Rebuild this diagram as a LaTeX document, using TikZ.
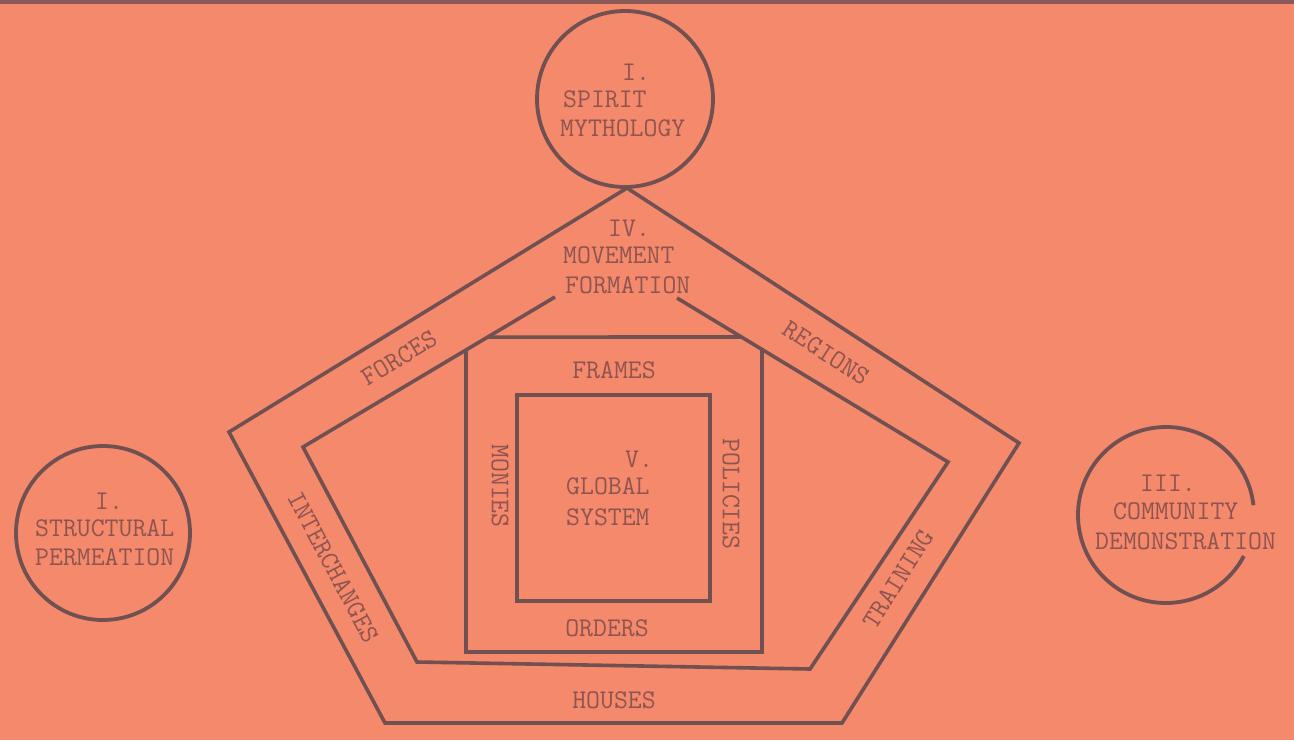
\documentclass[tikz,border=0pt]{standalone}
\usetikzlibrary{calc}
\begin{document}
\begin{tikzpicture}[x=1pt,y=1pt,
  ln/.style={draw=lineC,line width=3.6pt,line join=miter},
  lbl/.style={text=textC,inner sep=0pt,font=\fontsize{27}{30}\selectfont\ttfamily},
  ring/.style={circle,draw=lineC,line width=3.8pt,minimum size=176pt,inner sep=0pt}]
\definecolor{bgC}{RGB}{244,137,108}
\definecolor{lineC}{RGB}{112,80,80}
\definecolor{textC}{RGB}{142,84,80}
\fill[bgC] (0,0) rectangle (1294,-740);
\useasboundingbox (0,0) rectangle (1294,-740);
\fill[lineC!80!bgC] (0,0) rectangle (1294,-4);
% circles
\node[ring] (spirit) at (625,-99) {};
\node[ring,minimum size=174pt] (struct) at (103,-533) {};
\coordinate (comm) at (1166,-515);
\draw[draw=lineC,line width=3.8pt] (comm) ++(6.4:88) arc[start angle=6.4,end angle=332.2,radius=88];
% outer pentagon
\coordinate (oT) at (627,-188);
\coordinate (oL) at (229,-432);
\coordinate (oBL) at (385,-723);
\coordinate (oBR) at (842,-723);
\coordinate (oR) at (1019,-443);
\draw[ln] (oT) -- (oL) -- (oBL) -- (oBR) -- (oR) -- cycle;
% inner pentagon (open at top)
\coordinate (iTL) at (555,-297);
\coordinate (iL) at (303,-447);
\coordinate (iBL) at (417,-662);
\coordinate (iBR) at (810,-669);
\coordinate (iR) at (948,-462);
\coordinate (iTR) at (677,-298);
\draw[ln] (iTL) -- (iL) -- (iBL) -- (iBR) -- (iR) -- (iTR);
% frames bar and rectangle
\coordinate (fTL) at ($(iL)!0.733!(iTL)$);
\coordinate (fTR) at ($(iTR)!0.238!(iR)$);
\draw[ln] (fTL) -- (fTR);
\coordinate (fvL) at (466,-351);
\coordinate (fvR) at (762,-349);
\coordinate (fBL) at (466,-652);
\coordinate (fBR) at (762,-652);
\draw[ln] (fvL) -- (fBL) -- (fBR) -- (fvR);
% global system square
\draw[ln] (517,-395) rectangle (710,-601);
% texts
\node[lbl,anchor=west] (t1a) at (622,-72) {I.};
\node[lbl,anchor=west] (t1b) at (563,-99) {SPIRIT};
\node[lbl,anchor=west] (t1c) at (560,-128) {MYTHOLOGY};
\node[lbl,anchor=west] (t4a) at (608,-228) {IV.};
\node[lbl,anchor=west] (t4b) at (563,-255) {MOVEMENT};
\node[lbl,anchor=west] (t4c) at (565,-285) {FORMATION};
\node[lbl,anchor=west] (t2a) at (95,-501) {I.};
\node[lbl,anchor=west] (t2b) at (35,-528) {STRUCTURAL};
\node[lbl,anchor=west] (t2c) at (35,-557) {PERMEATION};
\node[lbl,anchor=west] (t3a) at (1140,-483) {III.};
\node[lbl,anchor=west] (t3b) at (1113,-511) {COMMUNITY};
\node[lbl,anchor=west] (t3c) at (1095,-541) {DEMONSTRATION};
\node[lbl,anchor=west] (t5a) at (625,-459) {V.};
\node[lbl,anchor=west] (t5b) at (566,-486) {GLOBAL};
\node[lbl,anchor=west] (t5c) at (566,-517) {SYSTEM};
\node[lbl] (frames) at (614,-370) {FRAMES};
\node[lbl] (orders) at (607,-628) {ORDERS};
\node[lbl] (houses) at (614,-700) {HOUSES};
\node[lbl,rotate=31] (forces) at (399,-358) {FORCES};
\node[lbl,rotate=-33] (regions) at (826,-353) {REGIONS};
\node[lbl,rotate=-62] (inter) at (333,-567) {INTERCHANGES};
\node[lbl,rotate=58] (training) at (898,-579) {TRAINING};
\node[lbl,rotate=-90] (monies) at (500,-486) {MONIES};
\node[lbl,rotate=-90] (policies) at (731,-494) {POLICIES};
\end{tikzpicture}
\end{document}
